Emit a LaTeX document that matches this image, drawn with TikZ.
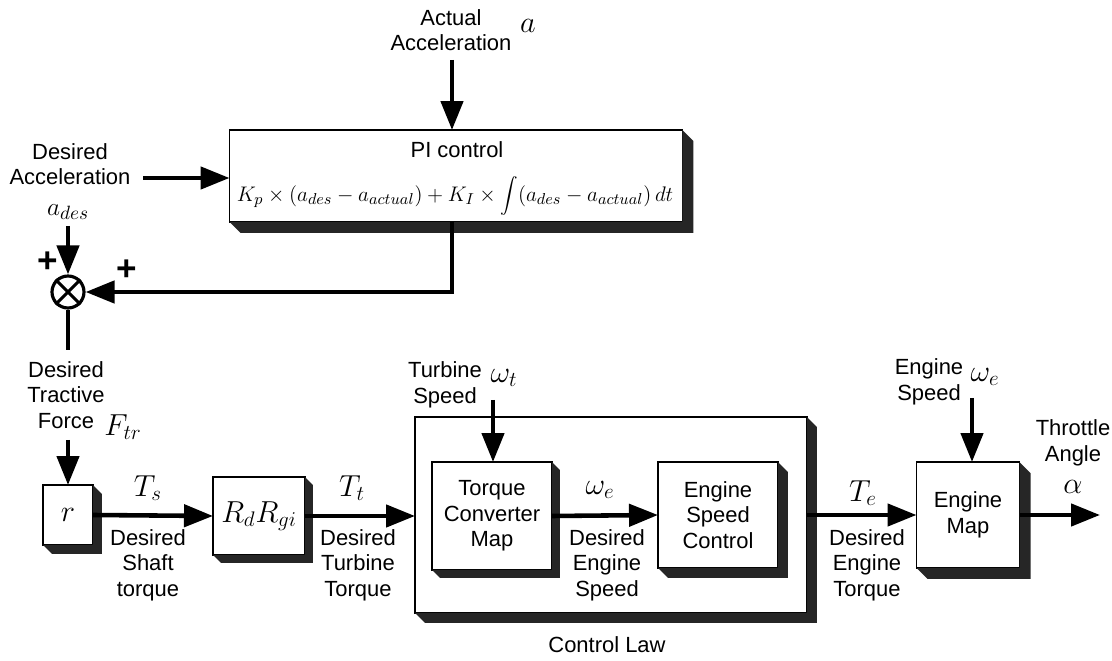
\documentclass[tikz,border=0pt]{standalone}
\usepackage{fontspec}
\setmainfont{Liberation Sans}
\usetikzlibrary{arrows.meta,calc}

\begin{document}
\begin{tikzpicture}[x=0.02cm, y=-0.02cm,
                    >={Triangle[length=0.58cm,width=0.44cm]},
                    every node/.style={font=\fontsize{12.5}{14.5}\selectfont, align=center},
                    blk/.style={draw, line width=0.9pt, inner sep=0pt, outer sep=0pt},
                    sig/.style={line width=2.6pt},
                    sym/.style={font=\fontsize{18}{20}\selectfont}]
  \useasboundingbox (0,0) rectangle (1112,661);
  % blocks
  \node[blk, minimum width=9.06cm, minimum height=1.84cm] (pi)   at (456,176) {};
  \node[blk, minimum width=1.0cm,  minimum height=1.2cm]  (rbox) at (68,515)  {\fontsize{18}{20}\selectfont$r$};
  \node[blk, minimum width=1.84cm, minimum height=1.56cm] (rdr)  at (259,516) {\fontsize{17}{20}\selectfont$R_d R_{gi}$};
  \node[blk, minimum width=7.84cm, minimum height=3.92cm] (law)  at (611,515) {};
  \node[blk, minimum width=2.4cm,  minimum height=2.16cm] (tc)   at (492,516) {Torque\\Converter\\Map};
  \node[blk, minimum width=2.4cm,  minimum height=2.12cm] (esc)  at (718,515) {Engine\\Speed\\Control};
  \node[blk, minimum width=2.06cm, minimum height=2.12cm] (emap) at (968,515) {Engine\\Map};
  \node[draw, circle, line width=1.8pt, minimum size=0.64cm, inner sep=0pt] (sum) at (68,292) {};
  \draw[line width=1.8pt] (sum.45) -- (sum.225) (sum.135) -- (sum.315);
  % shadows
  \foreach \n/\d in {pi/11, rbox/9, rdr/8, law/10, tc/8, esc/10, emap/11}
    \fill[black!85] (\n.north east) -- ++(\d,\d) -- ($(\n.south east)+(\d,\d)$)
                    -- ($(\n.south west)+(\d,\d)$) -- (\n.south west)
                    -- (\n.south east) -- cycle;
  % texts
  \node[inner sep=1pt] (pitit) at (457,150) {PI control};
  \node[font=\fontsize{13}{15}\selectfont, inner sep=1pt] (pilaw) at (455,196)
       {$K_p \times (a_{des} - a_{actual}) + K_I \times \displaystyle\int (a_{des} - a_{actual})\,dt$};
  \node (actlab) at (451,30) {Actual\\Acceleration};
  \node[sym] (alab) at (528,26) {$a$};
  \node (dacc) at (70,164) {Desired\\Acceleration};
  \node[font=\fontsize{15}{17}\selectfont] (ades) at (68,212) {$a_{des}$};
  \node[font=\fontsize{20}{20}\selectfont\bfseries] (plus1) at (48,262) {+};
  \node[font=\fontsize{20}{20}\selectfont\bfseries] (plus2) at (127,270) {+};
  \node (dtf) at (66,395) {Desired\\Tractive\\Force};
  \node[sym] (ftr) at (123,427) {$F_{tr}$};
  \node[sym] (ts) at (148,488) {$T_s$};
  \node (dst) at (148,565) {Desired\\Shaft\\torque};
  \node[sym] (tt) at (352,488) {$T_t$};
  \node (dtt) at (358,565) {Desired\\Turbine\\Torque};
  \node (tsp) at (445,385) {Turbine\\Speed};
  \node[sym] (wt) at (504,378) {$\omega_t$};
  \node[sym] (we) at (600,490) {$\omega_e$};
  \node (des) at (607,565) {Desired\\Engine\\Speed};
  \node[sym] (te) at (863,493) {$T_e$};
  \node (det) at (867,565) {Desired\\Engine\\Torque};
  \node (esp) at (929,382) {Engine\\Speed};
  \node[sym] (we2) at (985,377) {$\omega_e$};
  \node (thr) at (1073,443) {Throttle\\Angle};
  \node[sym] (alpha) at (1073,487) {$\alpha$};
  \node (claw) at (607,645) {Control Law};
  % free ends
  \coordinate (dacc-out) at (143,178);
  \coordinate (act-in)   at (452,60);
  \coordinate (ftr-cut)  at (68,350);
  \coordinate (ftr-in)   at (68,440);
  \coordinate (turb-in)  at (493,400);
  \coordinate (eng-in)   at (972,398);
  \coordinate (thr-out)  at (1100,515);
  % signals
  \draw[sig,->] (dacc-out) -- (dacc-out -| pi.west);
  \draw[sig,->] (act-in) -- (act-in |- pi.north);
  \draw[sig,->] (pi.south -| act-in) |- (sum.east);
  \draw[sig,->] (ades.south) -- (sum.north);
  \draw[sig] (sum.south) -- (ftr-cut);
  \draw[sig,->] (ftr-in) -- (rbox.north);
  \draw[sig,->] (rbox.east) -- (rdr.west);
  \draw[sig,->] (rdr.east) -- (rdr.east -| law.west);
  \draw[sig,->] (turb-in) -- (turb-in |- tc.north);
  \draw[sig,->] (tc.east) -- (esc.west);
  \draw[sig,->] (law.east) -- (law.east -| emap.west);
  \draw[sig,->] (eng-in) -- (eng-in |- emap.north);
  \draw[sig,->] (emap.east) -- (thr-out);
\end{tikzpicture}
\end{document}
